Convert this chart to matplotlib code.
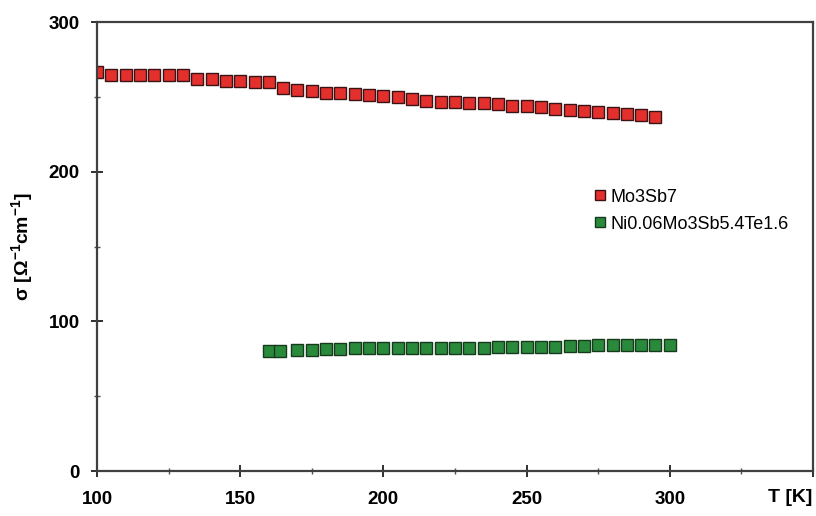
import matplotlib
matplotlib.use("Agg")
import matplotlib.pyplot as plt
from matplotlib.ticker import MultipleLocator, FixedLocator

plt.rcParams['font.family'] = ['Liberation Sans', 'DejaVu Sans']
plt.rcParams['mathtext.fontset'] = 'custom'
plt.rcParams['mathtext.rm'] = 'Liberation Sans'
plt.rcParams['mathtext.bf'] = 'Liberation Sans:bold'
plt.rcParams['mathtext.default'] = 'bf'

# Mo3Sb7
t_mo = [100, 105, 110, 115, 120, 125, 130, 135, 140, 145,
        150, 155, 160, 165, 170, 175, 180, 185, 190, 195,
        200, 205, 210, 215, 220, 225, 230, 235, 240, 245,
        250, 255, 260, 265, 270, 275, 280, 285, 290, 295]
sigma_mo = [266.5, 265.0, 265.0, 265.0, 264.7, 264.5, 264.5, 262.0, 262.0, 261.0,
            261.0, 260.0, 259.8, 256.3, 255.0, 253.8, 253.0, 253.0, 252.0, 251.2,
            250.6, 250.0, 248.5, 247.4, 246.5, 246.5, 246.0, 246.0, 245.6, 244.3,
            243.8, 243.0, 242.3, 241.1, 240.7, 240.0, 239.0, 238.5, 238.0, 236.7]

# Ni0.06Mo3Sb5.4Te1.6
t_ni = [160, 164, 170, 175, 180, 185, 190, 195, 200, 205,
        210, 215, 220, 225, 230, 235, 240, 245, 250, 255,
        260, 265, 270, 275, 280, 285, 290, 295, 300]
sigma_ni = [80.0, 80.5, 81.0, 81.0, 81.5, 81.5, 82.0, 82.0, 82.0, 82.5,
            82.5, 82.5, 82.5, 82.5, 82.5, 82.5, 83.0, 83.0, 83.0, 83.0,
            83.0, 83.5, 83.5, 84.0, 84.0, 84.0, 84.0, 84.5, 84.5]

series_labels = ['Mo3Sb7', 'Ni0.06Mo3Sb5.4Te1.6']
x_ticks = [100, 150, 200, 250, 300]
y_ticks = [0, 100, 200, 300]

fig = plt.figure(figsize=(8.16, 5.16), dpi=100)
ax = fig.add_axes([0.1189, 0.0872, 0.8774, 0.8698])

ax.plot(t_mo, sigma_mo, linestyle='none', marker='s', markersize=8.5,
        markerfacecolor='#e3302d', markeredgecolor='#3a1414', markeredgewidth=1.0,
        label=series_labels[0])
ax.plot(t_ni, sigma_ni, linestyle='none', marker='s', markersize=8.5,
        markerfacecolor='#2a8a3c', markeredgecolor='#163a1c', markeredgewidth=1.0,
        label=series_labels[1])

ax.set_xlim(100, 350)
ax.set_ylim(0, 300)

ax.xaxis.set_major_locator(FixedLocator(x_ticks + [350]))
ax.xaxis.set_minor_locator(MultipleLocator(25))
ax.set_xticklabels([str(v) for v in x_ticks] + [''])
ax.yaxis.set_major_locator(FixedLocator(y_ticks))
ax.yaxis.set_minor_locator(MultipleLocator(50))

for side in ['left', 'bottom', 'top', 'right']:
    ax.spines[side].set_color('#404040')
    ax.spines[side].set_linewidth(1.6)

ax.tick_params(axis='both', which='major', direction='inout', length=9, width=1.4,
               color='#303030', labelsize=13.5)
ax.tick_params(axis='both', which='minor', direction='inout', length=5, width=1.0,
               color='#505050')
ax.tick_params(axis='x', which='major', pad=10)
ax.tick_params(axis='y', which='major', pad=8)
for lbl in ax.get_xticklabels() + ax.get_yticklabels():
    lbl.set_fontweight('bold')

ax.set_ylabel('σ [Ω$^{-1}$cm$^{-1}$]', fontsize=14, fontweight='bold', labelpad=10)
ax.yaxis.label.set_position((0, 0.5))
fig.text(0.968, 0.035, 'T [K]', fontsize=14, fontweight='bold', ha='center', va='center')

ax.legend(loc='center left', bbox_to_anchor=(0.668, 0.58), frameon=False,
          fontsize=13, handletextpad=0.15, markerscale=0.85, labelspacing=0.55,
          handlelength=0.9)

fig.savefig('out.png', dpi=100)
